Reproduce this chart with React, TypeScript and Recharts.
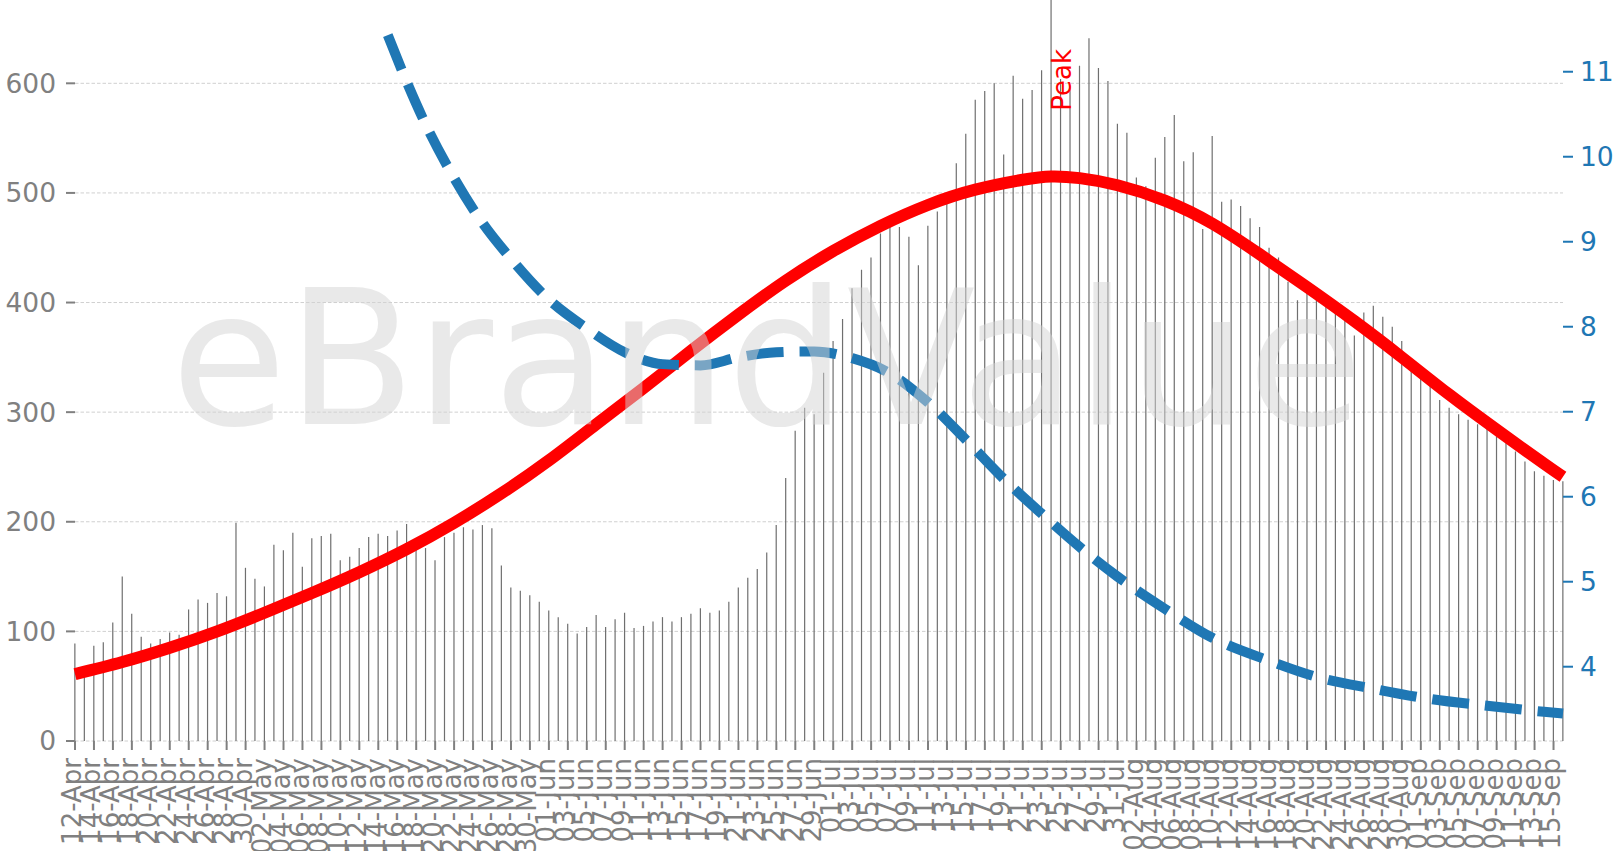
import React from 'react';
import { ComposedChart, Bar, Line, XAxis, YAxis, CartesianGrid, ReferenceDot } from 'recharts';

const FONT = '"DejaVu Sans", sans-serif';

// Daily values, 12-Apr .. 16-Sep (158 days)
const dailyValues = [
  89, 68, 87, 90, 108, 150, 116, 95, 89, 93,
  99, 97, 120, 129, 126, 135, 132, 199, 158, 148,
  141, 179, 174, 190, 159, 185, 187, 189, 165, 168,
  176, 186, 189, 187, 192, 198, 176, 176, 165, 186,
  190, 195, 193, 197, 194, 160, 140, 137, 133, 127,
  119, 113, 107, 98, 104, 115, 104, 111, 117, 103,
  105, 109, 113, 109, 113, 116, 121, 117, 119, 127,
  140, 149, 157, 172, 197, 240, 283, 304, 298, 336,
  365, 385, 413, 430, 441, 463, 473, 469, 460, 434,
  470, 483, 494, 527, 554, 585, 593, 600, 535, 607,
  586, 594, 612, 676, 604, 598, 616, 641, 614, 602,
  563, 555, 514, 506, 532, 551, 571, 529, 537, 467,
  552, 492, 494, 488, 477, 469, 450, 441, 419, 402,
  411, 405, 398, 392, 385, 370, 391, 397, 387, 378,
  365, 342, 333, 325, 311, 304, 298, 293, 289, 285,
  278, 272, 264, 255, 246, 242, 238, 237,
];

// Smoothed trend (left axis), read at these day indices
const trendDays = [0, 5, 10, 15, 20, 25, 30, 35, 40, 45, 50, 55, 60, 65, 70, 75, 80, 85, 90, 95, 100, 103, 106, 110, 115, 120, 125, 130, 135, 140, 145, 150, 155, 157];
const trendValues = [61, 72, 85, 100, 117, 135, 154, 175, 199, 226, 256, 289, 322, 356, 389, 420, 447, 470, 489, 503, 512, 515, 513.5, 507, 493, 472, 444, 414, 383, 350, 316, 284, 253, 241];

// Ratio series (right axis), read at these day indices
const ratioDays = [33, 35, 37, 40, 43, 46, 50, 54, 58, 62, 66, 70, 74, 78, 82, 86, 90, 94, 98, 102, 106, 110, 115, 120, 126, 131, 137, 143, 149, 155, 157];
const ratioValues = [11.43, 10.88, 10.38, 9.75, 9.22, 8.8, 8.32, 7.98, 7.7, 7.56, 7.545, 7.64, 7.7, 7.71, 7.63, 7.45, 7.11, 6.67, 6.21, 5.8, 5.41, 5.06, 4.68, 4.34, 4.07, 3.88, 3.74, 3.62, 3.54, 3.47, 3.45];

const tickLabels = [
  '12-Apr', '14-Apr', '16-Apr', '18-Apr', '20-Apr', '22-Apr', '24-Apr', '26-Apr', '28-Apr', '30-Apr',
  '02-May', '04-May', '06-May', '08-May', '10-May', '12-May', '14-May', '16-May', '18-May', '20-May',
  '22-May', '24-May', '26-May', '28-May', '30-May',
  '01-Jun', '03-Jun', '05-Jun', '07-Jun', '09-Jun', '11-Jun', '13-Jun', '15-Jun', '17-Jun', '19-Jun',
  '21-Jun', '23-Jun', '25-Jun', '27-Jun', '29-Jun',
  '01-Jul', '03-Jul', '05-Jul', '07-Jul', '09-Jul', '11-Jul', '13-Jul', '15-Jul', '17-Jul', '19-Jul',
  '21-Jul', '23-Jul', '25-Jul', '27-Jul', '29-Jul', '31-Jul',
  '02-Aug', '04-Aug', '06-Aug', '08-Aug', '10-Aug', '12-Aug', '14-Aug', '16-Aug', '18-Aug', '20-Aug',
  '22-Aug', '24-Aug', '26-Aug', '28-Aug', '30-Aug',
  '01-Sep', '03-Sep', '05-Sep', '07-Sep', '09-Sep', '11-Sep', '13-Sep', '15-Sep',
];

const leftDomain = [0, 676];
const rightDomain = [3.126, 11.844];
const leftTicks = [0, 100, 200, 300, 400, 500, 600];
const rightTicks = [4, 5, 6, 7, 8, 9, 10, 11];

const xTicks = tickLabels.map((_, k) => k * 2);

const data = dailyValues.map((v, i) => {
  const ti = trendDays.indexOf(i);
  const ri = ratioDays.indexOf(i);
  return {
    i,
    v,
    trend: ti >= 0 ? trendValues[ti] : null,
    ratio: ri >= 0 ? ratioValues[ri] : null,
  };
});

const peakIndex = dailyValues.indexOf(Math.max(...dailyValues));

const XTick = (props: any) => {
  const { x, y, payload } = props;
  const label = tickLabels[Math.round(payload.value / 2)];
  return (
    <g transform={`translate(${x},${y})`}>
      <text transform="rotate(-90)" x={0} y={6.4} textAnchor="end" fill="#808080" fontSize={26} fontFamily={FONT}>
        {label}
      </text>
    </g>
  );
};

const PeakLabel = (props: any) => {
  const vb = props.viewBox || {};
  const cx = vb.x !== undefined ? vb.x + (vb.width || 0) / 2 : props.x;
  const cy = vb.y !== undefined ? vb.y + (vb.height || 0) / 2 : props.y;
  const bx = cx + 20;
  return (
    <text transform={`rotate(-90 ${bx} ${cy})`} x={bx} y={cy} fill="#ff0000" fontSize={26} fontFamily={FONT}>
      Peak
    </text>
  );
};

// grid lines only at the left-axis ticks
const gridGenerator = (props: any) => {
  const s = props && props.yAxis && props.yAxis.scale;
  if (typeof s === 'function') return leftTicks.map((t) => s(t));
  const off = (props && props.offset) || { top: 0, height: 741 };
  return leftTicks.map(
    (t) => off.top + off.height * (1 - (t - leftDomain[0]) / (leftDomain[1] - leftDomain[0]))
  );
};

export default function App() {
  return (
    <div style={{ position: 'absolute', left: 0, top: 0, width: 1621, height: 851 }}>
      <ComposedChart width={1621} height={851} data={data} margin={{ top: 0, right: 0, bottom: 0, left: 0 }}>
        <CartesianGrid
          yAxisId="left"
          vertical={false}
          stroke="#d0d0d0"
          strokeDasharray="3.5 2"
          strokeWidth={1}
          horizontalCoordinatesGenerator={gridGenerator}
        />
        <XAxis
          dataKey="i"
          type="number"
          domain={[0, 157]}
          ticks={xTicks}
          interval={0}
          tick={<XTick />}
          tickLine={{ stroke: '#808080', strokeWidth: 2 }}
          tickSize={9}
          tickMargin={8}
          axisLine={false}
          height={110}
        />
        <YAxis
          yAxisId="left"
          domain={leftDomain}
          ticks={leftTicks}
          interval={0}
          width={75}
          tickSize={9}
          tickMargin={10}
          axisLine={false}
          tick={{ fill: '#808080', fontSize: 26.5, fontFamily: FONT }}
          tickLine={{ stroke: '#808080', strokeWidth: 2 }}
          allowDataOverflow
        />
        <YAxis
          yAxisId="right"
          orientation="right"
          domain={rightDomain}
          ticks={rightTicks}
          interval={0}
          width={58}
          tickSize={10}
          tickMargin={7}
          axisLine={false}
          tick={{ fill: '#1f77b4', fontSize: 26.5, fontFamily: FONT }}
          tickLine={{ stroke: '#1f77b4', strokeWidth: 2 }}
          allowDataOverflow
        />
        <Bar dataKey="v" yAxisId="left" fill="#6f6f6f" barSize={1.2} isAnimationActive={false} />
        <Line
          dataKey="trend"
          yAxisId="left"
          type="natural"
          stroke="#ff0000"
          strokeWidth={12}
          dot={false}
          connectNulls
          isAnimationActive={false}
        />
        <Line
          dataKey="ratio"
          yAxisId="right"
          type="monotone"
          stroke="#1f77b4"
          strokeWidth={10}
          strokeDasharray="37 16"
          dot={false}
          connectNulls
          isAnimationActive={false}
        />
        <ReferenceDot x={peakIndex} y={575} yAxisId="left" r={0} fill="none" stroke="none" label={PeakLabel} />
      </ComposedChart>
      <svg width={1621} height={851} style={{ position: 'absolute', left: 0, top: 0, pointerEvents: 'none' }}>
        <text x={171} y={424} fill="#d3d3d3" fillOpacity={0.5} fontSize={188} fontFamily={FONT}>
          eBrandValue
        </text>
      </svg>
    </div>
  );
}
